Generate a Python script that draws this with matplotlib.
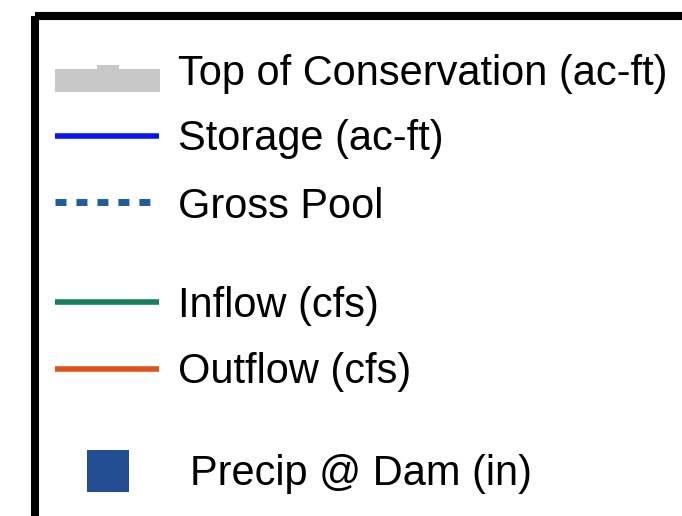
import matplotlib
matplotlib.use("Agg")
import matplotlib.pyplot as plt
from matplotlib.patches import Rectangle

labels = ["Top of Conservation (ac-ft)", "Storage (ac-ft)", "Gross Pool",
          "Inflow (cfs)", "Outflow (cfs)", "Precip @ Dam (in)"]
colors = ["#c8c8c8", "#0a14f0", "#1f5c9c", "#16805e", "#e0501a", "#234e94"]
kinds = ["patch", "line", "dash", "line", "line", "square"]
rows_y = [80, 136, 202, 302, 369, 471]
baselines = [85, 150, 218, 317, 383, 485]
text_x = [178, 178, 178, 178, 178, 190]

fig = plt.figure(figsize=(6.82, 5.16), dpi=100)
ax = fig.add_axes([0, 0, 1, 1])
ax.set_xlim(0, 682)
ax.set_ylim(516, 0)
ax.axis("off")

# frame (cropped at right and bottom)
ax.add_patch(Rectangle((34.5, 16), 700, 600, fill=False, edgecolor="black", linewidth=5.8))

for lab, col, kind, y, by, tx in zip(labels, colors, kinds, rows_y, baselines, text_x):
    if kind == "patch":
        ax.add_patch(Rectangle((55, 69), 105, 23, facecolor=col, edgecolor="none"))
        ax.add_patch(Rectangle((97, 65), 22, 5, facecolor=col, edgecolor="none"))
    elif kind == "line":
        ax.plot([55, 159], [y, y], color=col, linewidth=4.0, solid_capstyle="butt")
    elif kind == "dash":
        ax.plot([55, 150], [y, y], color=col, linewidth=5.0, linestyle=(0, (1.58, 1.44)),
                dash_capstyle="butt")
    elif kind == "square":
        ax.add_patch(Rectangle((87, 450), 42, 42, facecolor=col, edgecolor="none"))
    ax.text(tx, by, lab, fontsize=29.9, family="Liberation Sans", va="baseline", ha="left",
            color="black")

fig.savefig("out.png", dpi=100)
